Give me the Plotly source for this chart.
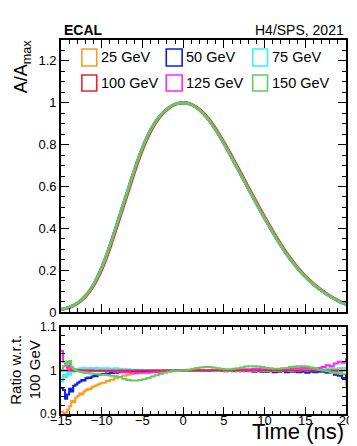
import plotly.graph_objects as go

# ── data ──
ENERGIES = ["25 GeV", "50 GeV", "75 GeV", "100 GeV", "125 GeV", "150 GeV"]
COLORS = ["#FF9A1F", "#0A1EF0", "#33F5F5", "#F0202E", "#FF22FF", "#62CB5B"]
# small timing offset of each pulse relative to the others (ns)
PEAK_SHIFT = [0.0, 0.0, 0.0, 0.12, 0.0, 0.0]

T_PULSE = [-15, -14, -13, -12, -11, -10, -9, -8, -7, -6, -5, -4, -3, -2, -1, 0,
           1, 2, 3, 4, 5, 6, 7, 8, 9, 10, 11, 12, 13, 14, 15, 16, 17, 18, 19, 20]
PULSE = [0.012, 0.022, 0.042, 0.077, 0.132, 0.212, 0.317, 0.437, 0.557, 0.677, 0.785,
         0.870, 0.930, 0.970, 0.993, 1.0, 0.992, 0.966, 0.925, 0.870, 0.805, 0.735,
         0.663, 0.590, 0.518, 0.448, 0.381, 0.318, 0.261, 0.211, 0.168, 0.132, 0.102,
         0.076, 0.054, 0.036]

T_RATIO = [-15, -14.75, -14.5, -14.25, -14, -13.75, -13.5, -13.25, -13, -12.75, -12.5,
           -12.25, -12, -11.75, -11.5, -11.25, -11, -10.75, -10.5, -10.25, -10,
           -9.5, -9, -8.5, -8, -7.5, -7, -6.5, -6, -5.5, -5, -4.5, -4, -3.5, -3, -2.5,
           -2, -1.5, -1, -0.5, 0, 0.5, 1, 1.5, 2, 2.5, 3, 3.5, 4, 4.5, 5, 5.5, 6, 6.5,
           7, 7.5, 8, 8.5, 9, 9.5, 10, 10.5, 11, 11.5, 12, 12.5, 13, 13.5, 14, 14.5,
           15, 15.5, 16, 16.5, 17, 17.5, 18, 18.5, 19, 19.5, 20]

RATIO_25 = [0.905, 0.900, 0.903, 0.910, 0.918, 0.930, 0.927, 0.938, 0.942, 0.947, 0.945,
            0.952, 0.955, 0.958, 0.957, 0.962, 0.964, 0.966, 0.968, 0.970, 0.972,
            0.976, 0.979, 0.982, 0.985, 0.988, 0.990, 0.992, 0.993, 0.995, 0.996, 0.997,
            0.998, 0.998, 0.999, 0.999, 1.000, 1.000, 1.001, 1.001, 1.001, 1.002, 1.002,
            1.002, 1.001, 1.001, 1.001, 1.002, 1.002, 1.001, 1.001, 1.001, 1.002, 1.001,
            1.001, 1.000, 1.001, 1.001, 1.000, 1.000, 1.001, 1.000, 1.000, 1.001, 1.000,
            1.000, 1.001, 1.000, 1.000, 1.001, 1.000, 1.001, 1.002, 1.001, 1.000, 1.000,
            1.001, 0.999, 0.998, 0.990, 0.965]
RATIO_50 = [0.960, 0.955, 0.935, 0.945, 0.958, 0.952, 0.965, 0.968, 0.972, 0.975, 0.978,
            0.977, 0.982, 0.984, 0.983, 0.986, 0.988, 0.987, 0.990, 0.991, 0.992,
            0.993, 0.994, 0.995, 0.996, 0.997, 0.998, 0.998, 0.999, 0.998, 0.999, 0.999,
            0.999, 1.000, 0.999, 1.000, 1.000, 0.999, 1.000, 1.000, 1.000, 0.999, 1.000,
            0.999, 1.000, 0.999, 0.999, 1.000, 0.999, 0.999, 0.998, 0.999, 0.998, 0.999,
            0.998, 0.999, 0.998, 0.997, 0.998, 0.997, 0.997, 0.998, 0.996, 0.997, 0.998,
            0.996, 0.997, 0.997, 0.996, 0.997, 0.995, 0.997, 0.996, 0.997, 0.997, 0.995,
            0.996, 0.990, 0.988, 0.983, 0.990]
RATIO_75 = [0.975, 0.990, 0.985, 0.995, 0.990, 1.000, 0.997, 1.002, 1.003, 1.005, 1.004,
            1.006, 1.005, 1.005, 1.006, 1.004, 1.005, 1.006, 1.005, 1.004, 1.005,
            1.005, 1.004, 1.005, 1.004, 1.003, 1.003, 1.002, 1.002, 1.002, 1.001, 1.001,
            1.001, 1.000, 1.000, 1.000, 1.000, 1.000, 1.000, 1.000, 1.000, 1.000, 1.000,
            0.999, 1.000, 0.999, 1.000, 0.999, 0.999, 1.000, 0.999, 0.999, 1.000, 0.999,
            0.999, 1.000, 0.999, 0.999, 1.000, 0.999, 0.999, 1.000, 0.999, 0.999, 1.000,
            1.000, 0.999, 1.000, 1.000, 1.001, 1.000, 1.001, 1.002, 1.002, 1.003, 1.004,
            1.005, 1.004, 1.006, 1.006, 1.005]
RATIO_100_T = [-15, 20]
RATIO_100 = [1.0, 1.0]
RATIO_125 = [1.045, 1.020, 1.010, 1.005, 1.012, 1.003, 1.000, 1.002, 1.000, 1.001, 1.000,
             1.000, 1.000, 1.000, 0.999, 1.000, 0.999, 0.999, 0.999, 0.999, 0.999,
             0.998, 0.998, 0.997, 0.997, 0.996, 0.996, 0.995, 0.995, 0.995, 0.995, 0.995,
             0.996, 0.996, 0.997, 0.998, 0.998, 0.999, 0.999, 1.000, 1.000, 1.000, 1.000,
             1.000, 1.000, 1.000, 1.000, 1.001, 1.001, 1.001, 1.001, 1.002, 1.002, 1.002,
             1.003, 1.003, 1.003, 1.004, 1.004, 1.003, 1.003, 1.003, 1.003, 1.003, 1.003,
             1.004, 1.004, 1.005, 1.005, 1.006, 1.006, 1.005, 1.005, 1.006, 1.008, 1.012,
             1.010, 1.016, 1.020, 1.018, 1.028]
RATIO_150 = [1.000, 1.010, 1.020, 1.015, 1.022, 1.008, 1.003, 1.000, 0.998, 0.997, 0.996,
             0.995, 0.994, 0.994, 0.993, 0.993, 0.992, 0.992, 0.991, 0.990, 0.990,
             0.989, 0.988, 0.987, 0.985, 0.981, 0.978, 0.977, 0.977, 0.978, 0.980, 0.983,
             0.986, 0.989, 0.992, 0.995, 0.997, 0.998, 0.999, 1.000, 1.000, 1.002, 1.004,
             1.006, 1.007, 1.008, 1.008, 1.007, 1.005, 1.004, 1.003, 1.003, 1.004, 1.005,
             1.007, 1.009, 1.010, 1.010, 1.009, 1.008, 1.006, 1.005, 1.004, 1.004, 1.005,
             1.006, 1.008, 1.009, 1.010, 1.010, 1.009, 1.007, 1.005, 1.002, 1.000, 0.998,
             0.996, 0.994, 0.993, 0.992, 0.990]

RATIOS = [(T_RATIO, RATIO_25), (T_RATIO, RATIO_50), (T_RATIO, RATIO_75),
          (RATIO_100_T, RATIO_100), (T_RATIO, RATIO_125), (T_RATIO, RATIO_150)]

# ── page geometry (px) ──
W, H = 357, 446
L, R, T, B = 53, 340, 32, 406
MAIN_BOTTOM = 304
RATIO_TOP = 319
FONT = "Liberation Sans, Arial, Helvetica, sans-serif"


def px_x(px):
    return (px - L) / (R - L)


def px_y(py):
    return (B - py) / (B - T)


fig = go.Figure()

# main panel: green drawn last, on top
for i in range(6):
    fig.add_trace(go.Scatter(
        x=[t + PEAK_SHIFT[i] for t in T_PULSE], y=PULSE, mode="lines",
        line=dict(color=COLORS[i], width=2.8, shape="spline", smoothing=1.0),
        xaxis="x", yaxis="y", showlegend=False, name=ENERGIES[i],
    ))

# ratio panel
for i in [0, 1, 2, 4, 3, 5]:
    tx, ty = RATIOS[i]
    fig.add_trace(go.Scatter(
        x=tx, y=ty, mode="lines",
        line=dict(color=COLORS[i], width=2, shape="hv"),
        xaxis="x2", yaxis="y2", showlegend=False, name=ENERGIES[i],
    ))

axis_common = dict(
    showline=True, linecolor="black", linewidth=1.6, mirror="allticks",
    ticks="inside", tickcolor="black", tickwidth=1.4, ticklen=8,
    showgrid=False, zeroline=False,
    tickfont=dict(family=FONT, size=13, color="black"),
)

fig.update_layout(
    width=W, height=H,
    paper_bgcolor="white", plot_bgcolor="white",
    margin=dict(l=L, r=W - R, t=T, b=H - B),
    font=dict(family=FONT, color="black"),
    showlegend=False,
    xaxis=dict(axis_common, domain=[0, 1], anchor="y", range=[-15, 20],
               tick0=0, dtick=5, showticklabels=False,
               minor=dict(dtick=1, ticklen=4, ticks="inside", tickcolor="black", tickwidth=1.4)),
    yaxis=dict(axis_common, domain=[px_y(MAIN_BOTTOM), 1], anchor="x", range=[0, 1.3],
               tick0=0, dtick=0.2,
               minor=dict(dtick=0.05, ticklen=4, ticks="inside", tickcolor="black", tickwidth=1.4)),
    xaxis2=dict(axis_common, domain=[0, 1], anchor="y2", range=[-15, 20], matches="x",
                tick0=0, dtick=5, ticklen=7, ticklabelstandoff=-6,
                minor=dict(dtick=1, ticklen=3, ticks="inside", tickcolor="black", tickwidth=1.4)),
    yaxis2=dict(axis_common, domain=[0, px_y(RATIO_TOP)], anchor="x2", range=[0.9, 1.1],
                tick0=0.9, dtick=0.1, ticklen=7,
                tickfont=dict(family=FONT, size=12, color="black"),
                minor=dict(dtick=0.02, ticklen=4, ticks="inside", tickcolor="black", tickwidth=1.4)),
)

# ── hand-built legend, 3 columns ──
box_cols = [(74, 89), (159, 175), (246, 261)]
box_rows = [(41, 58), (67, 83)]
shapes = []
annotations = []
for k, name in enumerate(ENERGIES):
    r, c = divmod(k, 3)
    x0, x1 = box_cols[c]
    y0, y1 = box_rows[r]
    shapes.append(dict(type="rect", xref="paper", yref="paper",
                       x0=px_x(x0), x1=px_x(x1), y0=px_y(y1), y1=px_y(y0),
                       line=dict(color=COLORS[k], width=1.6), fillcolor="white"))
    annotations.append(dict(text=name, xref="paper", yref="paper",
                            x=px_x(x1 + 2), y=px_y((y0 + y1) / 2),
                            xanchor="left", yanchor="middle", showarrow=False,
                            font=dict(family=FONT, size=14.5, color="black")))

annotations += [
    dict(text="<b>ECAL</b>", xref="paper", yref="paper", x=px_x(54), y=px_y(21.5),
         xanchor="left", yanchor="middle", showarrow=False,
         font=dict(family=FONT, size=14, color="black")),
    dict(text="H4/SPS, 2021", xref="paper", yref="paper", x=1, y=px_y(21.5),
         xanchor="right", yanchor="middle", showarrow=False,
         font=dict(family=FONT, size=14, color="black")),
    dict(text="A/A<sub>max</sub>", xref="paper", yref="paper", x=px_x(15), y=px_y(29),
         xanchor="center", yanchor="top", textangle=-90, showarrow=False,
         font=dict(family=FONT, size=18, color="black")),
    dict(text="Ratio w.r.t.<br>100 GeV", xref="paper", yref="paper", x=px_x(16.5), y=px_y(362),
         xanchor="center", yanchor="middle", textangle=-90, showarrow=False,
         font=dict(family=FONT, size=15, color="black")),
    dict(text="Time (ns)", xref="paper", yref="paper", x=1, y=px_y(438),
         xanchor="right", yanchor="bottom", showarrow=False,
         font=dict(family=FONT, size=22, color="black")),
]

fig.update_layout(shapes=shapes, annotations=annotations)

fig.write_html("out.html")
